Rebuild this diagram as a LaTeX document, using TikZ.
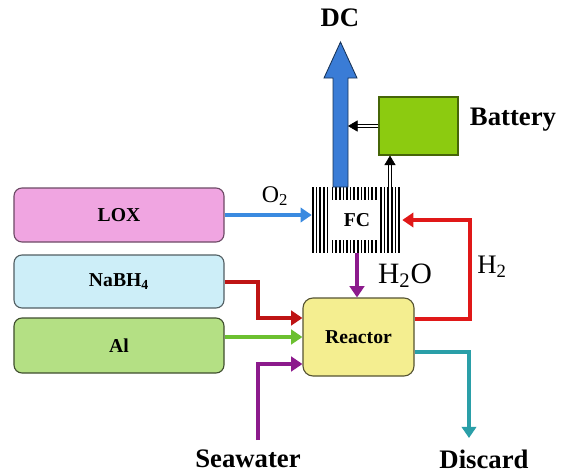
\documentclass[tikz,border=0pt]{standalone}
\usepackage{fontspec}
\setmainfont{Liberation Serif}
\usetikzlibrary{arrows.meta,calc}
\definecolor{loxpink}{RGB}{240,165,225}
\definecolor{nabhblue}{RGB}{205,238,248}
\definecolor{algreen}{RGB}{180,224,132}
\definecolor{reactyellow}{RGB}{244,238,144}
\definecolor{battgreen}{RGB}{140,203,16}
\definecolor{dcblue}{RGB}{58,124,214}
\definecolor{otwoblue}{RGB}{58,138,224}
\definecolor{htwored}{RGB}{224,24,24}
\definecolor{alarrow}{RGB}{108,192,48}
\definecolor{seapurple}{RGB}{140,26,140}
\definecolor{discteal}{RGB}{42,159,168}

\begin{document}
\begin{tikzpicture}[x=0.25mm,y=-0.25mm,>={Triangle[length=2.8mm,width=3.6mm]},
  feed/.style={rounded corners=2mm,minimum width=52.5mm,line width=0.8pt,
    font=\fontsize{14}{16}\selectfont\bfseries},
  flow/.style={->,line width=1mm},
  big/.style={font=\fontsize{19}{22}\selectfont\bfseries,inner sep=1pt},
  chem/.style={font=\fontsize{#1}{22}\selectfont},
  wire/.style={double,double distance=0.5mm,line width=0.4pt,
    -{Triangle[length=2.4mm,width=2.8mm]}}]
  \useasboundingbox (0,0) rectangle (562,474);
  % 箱
  \node[feed,fill=loxpink,draw=loxpink!45!black,minimum height=13.5mm] (LOX) at (119,215) {LOX};
  \node[feed,fill=nabhblue,draw=nabhblue!40!black,minimum height=13.25mm] (NaBH) at (119,281.5) {NaBH\textsubscript{4}};
  \node[feed,fill=algreen,draw=algreen!35!black,minimum height=13.75mm] (Al) at (119,345.5) {Al};
  \node[feed,fill=reactyellow,draw=reactyellow!35!black,rounded corners=2.5mm,
    minimum width=27.75mm,minimum height=19.5mm] (Reactor) at (358.5,337) {Reactor};
  \node[fill=battgreen,draw=battgreen!50!black,line width=0.8pt,
    minimum width=19.75mm,minimum height=14.5mm] (Battery) at (418.5,126) {};
  \node[minimum width=22.5mm,minimum height=16.5mm,inner sep=0pt,
    font=\fontsize{14}{16}\selectfont\bfseries] (FC) at (357,220) {FC};
  % 燃料電池の縞
  \foreach \x in {313,316.6,...,330} \draw[line width=0.4mm] (\x,187)--(\x,253);
  \foreach \x in {381,384.6,...,402} \draw[line width=0.4mm] (\x,187)--(\x,253);
  \foreach \x in {332.5,336.1,...,379} {
    \draw[line width=0.4mm] (\x,187)--(\x,200);
    \draw[line width=0.4mm] (\x,240)--(\x,253);
  }
  % ラベル
  \node[big] (DC) at (340,18) {DC};
  \node[big] (BattLabel) at (513,120) {Battery};
  \node[big] (Seawater) at (248,459) {Seawater};
  \node[big] (Discard) at (484,459) {Discard};
  \node[chem=17] (Otwo) at (275,196) {O\textsubscript{2}};
  \node[chem=21] (Htwoo) at (405,276) {H\textsubscript{2}O};
  \node[chem=19] (Htwo) at (492,267) {H\textsubscript{2}};
  % 直流の矢印
  \coordinate (dcfoot) at (340.5,187);
  \coordinate (dcR) at (348,126);
  \coordinate (fcB) at (390,187);
  \draw[fill=dcblue,draw=dcblue!40!black,line width=0.6pt]
    (dcfoot) ++(-7.5,0) -- ++(0,-109) -- ++(-9,0) -- ++(16.5,-36)
    -- ++(16.5,36) -- ++(-9,0) -- ++(0,109) -- cycle;
  \draw[wire] (Battery.west) -- (Battery.west -| dcR);
  \draw[wire] (fcB) -- (fcB |- Battery.south);
  % 流れ
  \coordinate (sw) at (258,440);
  \coordinate (dis) at (469,438);
  \draw[flow,otwoblue] (LOX.east) -- (LOX.east -| FC.west);
  \draw[flow,htwored!85!black] (NaBH.east) -- ++(33,0) |- ($(Reactor.west)+(0,-19)$);
  \draw[flow,alarrow] (Reactor.west -| Al.east) -- (Reactor.west);
  \draw[flow,seapurple] (sw) |- ($(Reactor.west)+(0,27)$);
  \draw[flow,seapurple] (FC.south) -- (FC.south |- Reactor.north);
  \draw[flow,htwored] ($(Reactor.east)+(0,-18)$) -- ++(55,0) |- (FC.east);
  \draw[flow,discteal] ($(Reactor.east)+(0,15)$) -| (dis);
\end{tikzpicture}
\end{document}
